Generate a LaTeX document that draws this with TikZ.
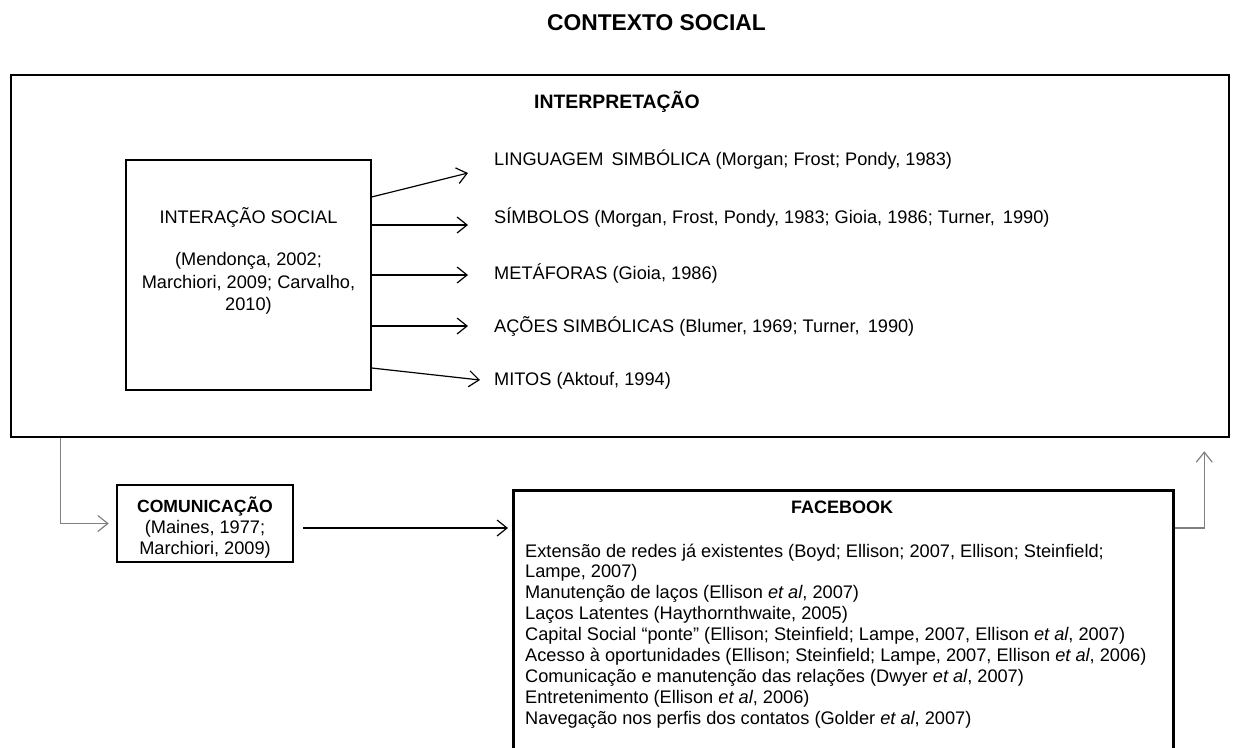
\documentclass[tikz,border=0pt]{standalone}
\usepackage{fontspec}
\setmainfont{Liberation Sans}
\usetikzlibrary{arrows.meta}
\definecolor{lgray}{RGB}{128,128,128}
\begin{document}
\begin{tikzpicture}[x=1pt,y=-1pt,
  body/.style={font=\fontsize{18.2}{21}\selectfont, inner sep=0pt},
  boldt/.style={font=\fontsize{17.6}{21}\selectfont\bfseries, inner sep=0pt},
  thickbox/.style={draw, line width=2.5pt, inner sep=0pt},
  thinbox/.style={draw, line width=1.3pt, inner sep=0pt},
  arr/.style={-{Straight Barb[length=10pt,width=16pt]}, line width=1.2pt},
  garr/.style={arr, draw=lgray}]
\clip (0,0) rectangle (1236,747);
\fill[white] (0,0) rectangle (1236,747);
% title
\node[anchor=base, inner sep=0pt, font=\fontsize{22.8}{26}\selectfont\bfseries] (title) at (656.5,30) {CONTEXTO SOCIAL};
% outer box
\node[thickbox, minimum width=1218pt, minimum height=362pt] (outer) at (620,256) {};
\node[boldt, anchor=base, font=\fontsize{19.4}{22}\selectfont\bfseries] (interp) at (617,108) {INTERPRETAÇÃO};
% interacao box
\node[thinbox, minimum width=245pt, minimum height=230pt] (inter) at (248.5,275) {};
\node[body, anchor=base] (it1) at (248.5,223) {INTERAÇÃO SOCIAL};
\node[body, anchor=base] (it2) at (248.5,265) {(Mendonça, 2002;};
\node[body, anchor=base] (it3) at (248.5,288) {Marchiori, 2009; Carvalho,};
\node[body, anchor=base] (it4) at (248.5,310) {2010)};
% items
\node[body, anchor=base west] (l1) at (494,165) {LINGUAGEM\, SIMBÓLICA (Morgan; Frost; Pondy, 1983)};
\node[body, anchor=base west] (l2) at (494,223) {SÍMBOLOS (Morgan, Frost, Pondy, 1983; Gioia, 1986; Turner,\, 1990)};
\node[body, anchor=base west] (l3) at (494,279) {METÁFORAS (Gioia, 1986)};
\node[body, anchor=base west] (l4) at (494,332) {AÇÕES SIMBÓLICAS (Blumer, 1969; Turner,\, 1990)};
\node[body, anchor=base west] (l5) at (494,385) {MITOS (Aktouf, 1994)};
\coordinate (t1) at (468,173);
\coordinate (t2) at (468,225);
\coordinate (t3) at (468,275);
\coordinate (t4) at (468,326);
\coordinate (t5) at (480,380);
\draw[arr] ([yshift=78pt]inter.east) -- (t1);
\draw[arr] ([yshift=50pt]inter.east) -- (t2);
\draw[arr] (inter.east) -- (t3);
\draw[arr] ([yshift=-51pt]inter.east) -- (t4);
\draw[arr] ([yshift=-93pt]inter.east) -- (t5);
% comunicacao
\node[thickbox, minimum width=176pt, minimum height=77pt] (com) at (205,523.5) {};
\node[boldt, anchor=base] (c1) at (205,512) {COMUNICAÇÃO};
\node[body, anchor=base] (c2) at (205,533) {(Maines, 1977;};
\node[body, anchor=base] (c3) at (205,554) {Marchiori, 2009)};
\draw[garr] ([xshift=51pt]outer.south west) |- ([xshift=-7pt]com.west);
% facebook
\node[thickbox, minimum width=660pt, minimum height=300pt, anchor=north west] (fb) at (512,489) {};
\node[boldt, anchor=base, font=\fontsize{18}{21}\selectfont\bfseries] (fbt) at (842,513) {FACEBOOK};
\foreach \t [count=\i] in {
  {Extensão de redes já existentes (Boyd; Ellison; 2007, Ellison; Steinfield;},
  {Lampe, 2007)},
  {Manutenção de laços (Ellison \textit{et al}, 2007)},
  {Laços Latentes (Haythornthwaite, 2005)},
  {Capital Social “ponte” (Ellison; Steinfield; Lampe, 2007, Ellison \textit{et al}, 2007)},
  {Acesso à oportunidades (Ellison; Steinfield; Lampe, 2007, Ellison \textit{et al}, 2006)},
  {Comunicação e manutenção das relações (Dwyer \textit{et al}, 2007)},
  {Entretenimento (Ellison \textit{et al}, 2006)},
  {Navegação nos perfis dos contatos (Golder \textit{et al}, 2007)}}
  \node[body, anchor=base west] (fb\i) at (525,{557+20.9*(\i-1)}) {\t};
\coordinate (m1) at (303,528);
\coordinate (m2) at (508,528);
\draw[arr] (m1) -- (m2);
\draw[garr] (fb.east |- m2) -| ([xshift=-26pt,yshift=-13pt]outer.south east);
\end{tikzpicture}
\end{document}
